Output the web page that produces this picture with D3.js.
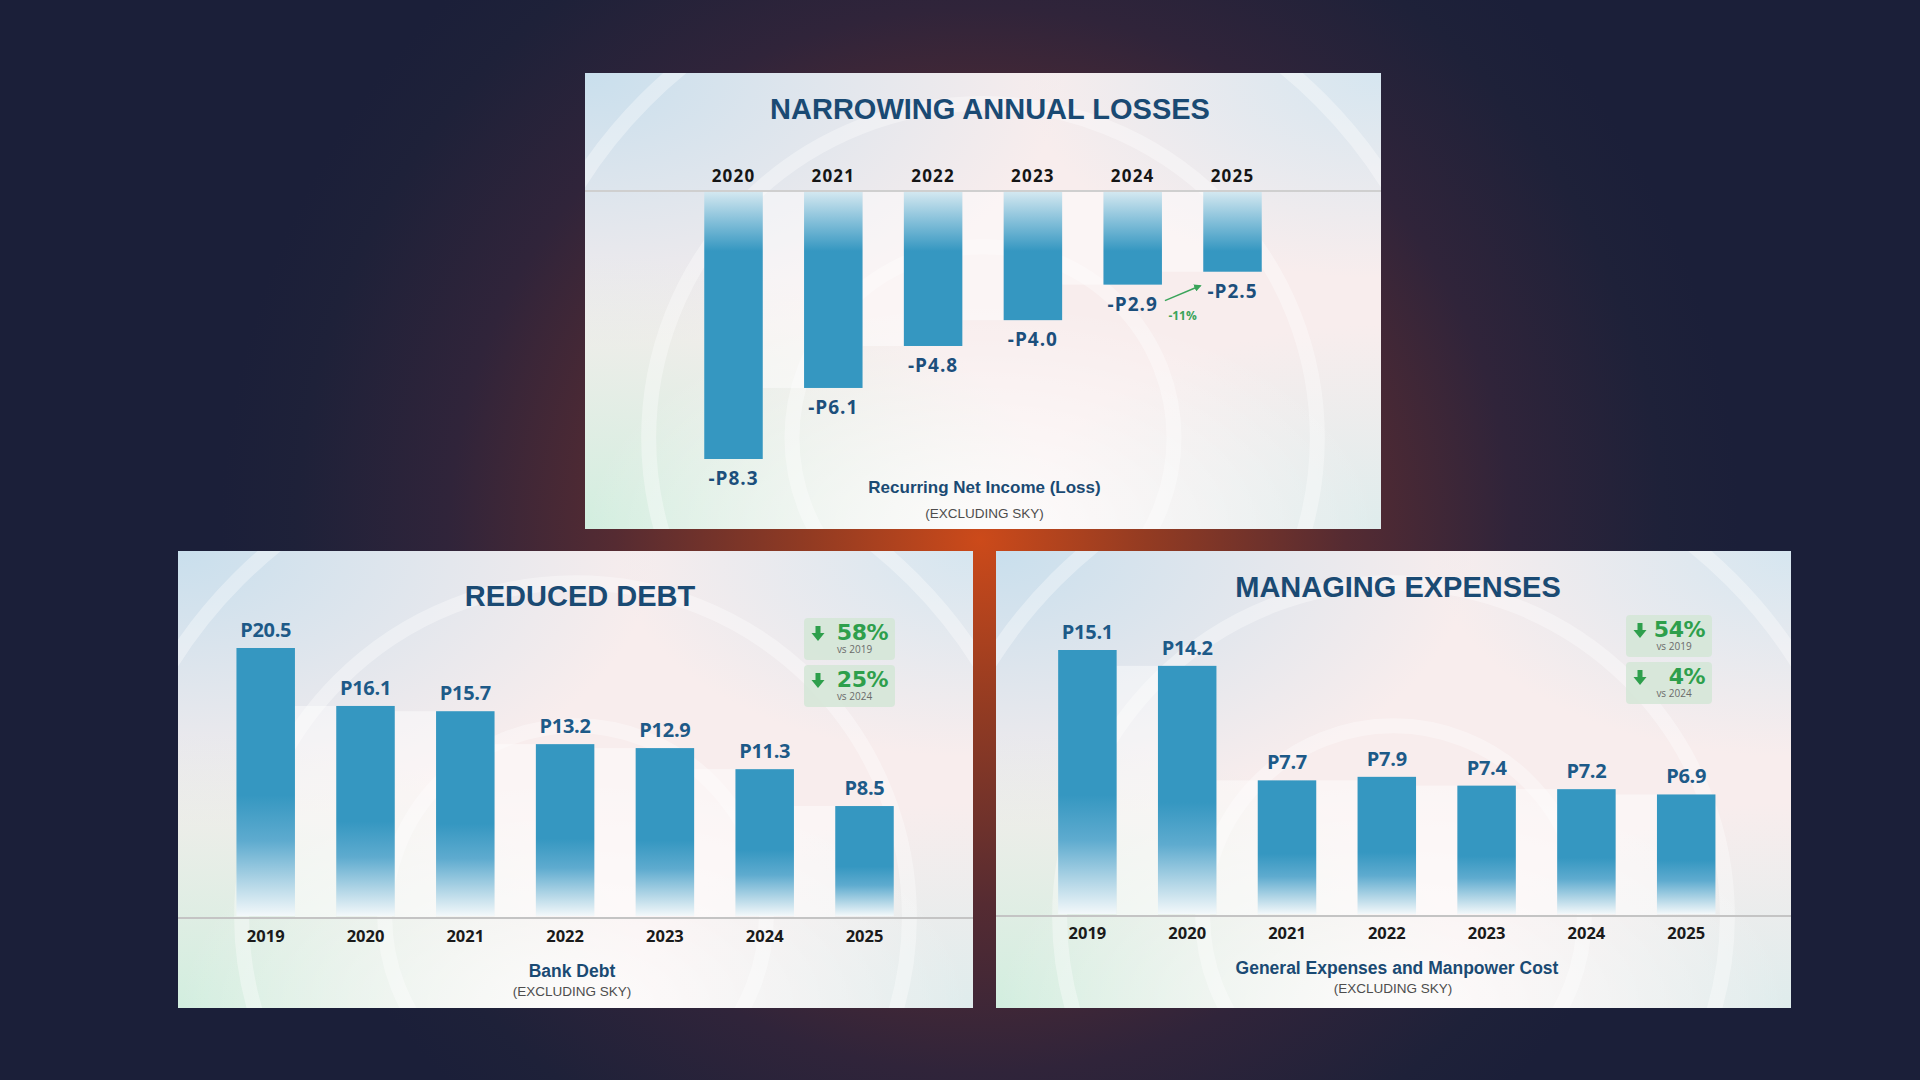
<!DOCTYPE html>
<html>
<head>
<meta charset="utf-8">
<script src="https://cdn.jsdelivr.net/npm/d3@7"></script>
<style>
  html, body { margin: 0; padding: 0; background: #1b1f39; }
  svg { display: block; }
</style>
</head>
<body>
<script>
// values
var lossYears = ['2020', '2021', '2022', '2023', '2024', '2025'];
var lossValues = [-8.3, -6.1, -4.8, -4.0, -2.9, -2.5];
var lossChange = '-11%';

var debtYears = ['2019', '2020', '2021', '2022', '2023', '2024', '2025'];
var debtValues = [20.5, 16.1, 15.7, 13.2, 12.9, 11.3, 8.5];
var debtBadgePct = ['58%', '25%'];
var debtBadgeVs = ['vs 2019', 'vs 2024'];

var expenseYears = ['2019', '2020', '2021', '2022', '2023', '2024', '2025'];
var expenseValues = [15.1, 14.2, 7.7, 7.9, 7.4, 7.2, 6.9];
var expenseBadgePct = ['54%', '4%'];
var expenseBadgeVs = ['vs 2019', 'vs 2024'];

var W = 1920,
    H = 1080;

var BAR = '#3597c1',
    NAVY = '#1a4a73',
    VALUE = '#1d5a88',
    GREEN = '#2e9f4c';

var svg = d3.select('body')
  .append('svg')
  .attr('width', W)
  .attr('height', H);

var defs = svg.append('defs');

// page background, dark with a red glow in the middle
var glow = defs.append('radialGradient')
  .attr('id', 'glow')
  .attr('gradientUnits', 'userSpaceOnUse')
  .attr('cx', 980).attr('cy', 540).attr('r', 760);
[[0, '#cc4a1a'], [0.22, '#933b22'], [0.48, '#552b32'], [0.7, '#30243a'], [0.9, '#1e2139'], [1, '#1b1f39']]
  .forEach(function(s) {
      glow.append('stop').attr('offset', s[0]).attr('stop-color', s[1]);
  });

svg.append('rect')
  .attr('width', W)
  .attr('height', H)
  .attr('fill', 'url(#glow)');

// soft corner tints used by every panel
function radial(id, cx, cy, r, color, op) {
    var g = defs.append('radialGradient')
      .attr('id', id)
      .attr('cx', cx).attr('cy', cy).attr('r', r);
    g.append('stop').attr('offset', 0).attr('stop-color', color).attr('stop-opacity', op);
    g.append('stop').attr('offset', 1).attr('stop-color', color).attr('stop-opacity', 0);
}
radial('tl', 0, 0, 0.6, '#c9dfed', 1);
radial('tr', 1, 0, 0.45, '#d6e6f0', 1);
radial('bl', 0, 1, 0.6, '#d2eedf', 1);
radial('br', 1, 1, 0.45, '#dcecec', 0.9);
radial('bc', 0.5, 1, 0.5, '#ffffff', 0.8);

var fadeDown = defs.append('linearGradient')
  .attr('id', 'fadeDown')
  .attr('x1', 0).attr('y1', 0).attr('x2', 0).attr('y2', 1);
[[0, BAR], [0.55, BAR], [0.72, '#5eabcf'], [0.88, '#b4d7e7'], [1, '#f3f8fa']]
  .forEach(function(s) {
      fadeDown.append('stop').attr('offset', s[0]).attr('stop-color', s[1]);
  });

function panel(key, p) {
    var clip = defs.append('clipPath').attr('id', 'clip-' + key);
    clip.append('rect').attr('width', p.w).attr('height', p.h);

    var g = svg.append('g')
      .attr('transform', 'translate(' + p.x + ',' + p.y + ')')
      .attr('clip-path', 'url(#clip-' + key + ')');

    g.append('rect').attr('width', p.w).attr('height', p.h).attr('fill', '#f8eded');
    ['tl', 'tr', 'bl', 'br', 'bc'].forEach(function(id) {
        g.append('rect')
          .attr('width', p.w)
          .attr('height', p.h)
          .attr('fill', 'url(#' + id + ')');
    });

    // the faint concentric rings
    g.selectAll('circle.ring')
      .data([0.24, 0.42, 0.6, 0.82])
      .enter()
      .append('circle')
      .attr('class', 'ring')
      .attr('cx', p.w / 2)
      .attr('cy', p.h * 0.8)
      .attr('r', function(d) { return d * p.w; })
      .attr('fill', 'none')
      .attr('stroke', '#ffffff')
      .attr('stroke-width', 15)
      .attr('stroke-opacity', 0.35);
    return g;
}

function text(x, y, str, size, weight, color, family) {
    return svg.append('text')
      .attr('x', x)
      .attr('y', y)
      .attr('text-anchor', 'middle')
      .style('font-family', family || '"Liberation Sans", Arial, sans-serif')
      .style('font-size', size + 'px')
      .style('font-weight', weight)
      .attr('fill', color)
      .text(str);
}

function bandScale(domain, firstCenter, step) {
    return d3.scaleBand()
      .domain(domain)
      .range([firstCenter - step / 2, firstCenter + (domain.length - 0.5) * step])
      .paddingInner(0.414)
      .paddingOuter(0.207);
}

// ---------------- NARROWING ANNUAL LOSSES ----------------
var P1 = {x: 585, y: 73, w: 796, h: 456};
panel('loss', P1);

var lossAxisY = 191;
var xLoss = bandScale(lossYears, 733.5, 99.8);
var yLoss = d3.scaleLinear()
  .domain([0, d3.min(lossValues)])
  .range([lossAxisY, lossAxisY + 268]);

var fadeUp = defs.append('linearGradient')
  .attr('id', 'fadeUp')
  .attr('gradientUnits', 'userSpaceOnUse')
  .attr('x1', 0).attr('y1', lossAxisY).attr('x2', 0).attr('y2', lossAxisY + 60);
[[0, '#d6e9f1'], [0.45, '#8dc4dc'], [1, BAR]].forEach(function(s) {
    fadeUp.append('stop').attr('offset', s[0]).attr('stop-color', s[1]);
});

var lossData = lossYears.map(function(y, i) { return {year: y, value: lossValues[i]}; });

svg.append('g')
  .selectAll('rect')
  .data(d3.pairs(lossData))
  .enter()
  .append('rect')
  .attr('x', function(d) { return xLoss(d[0].year) + xLoss.bandwidth(); })
  .attr('y', lossAxisY)
  .attr('width', xLoss.step() - xLoss.bandwidth())
  .attr('height', function(d) { return d3.min([yLoss(d[0].value), yLoss(d[1].value)]) - lossAxisY; })
  .attr('fill', '#ffffff')
  .attr('opacity', 0.45);

text(990, 118.5, 'NARROWING ANNUAL LOSSES', 29, 700, NAVY);

svg.append('line')
  .attr('x1', P1.x).attr('x2', P1.x + P1.w)
  .attr('y1', lossAxisY).attr('y2', lossAxisY)
  .attr('stroke', '#cfcfcf')
  .attr('stroke-width', 2);

var lossAxis = svg.append('g')
  .attr('transform', 'translate(0,' + lossAxisY + ')')
  .call(d3.axisTop(xLoss).tickSize(0).tickPadding(9));
lossAxis.select('.domain').remove();
lossAxis.selectAll('text')
  .style('font-family', '"Open Sans", sans-serif')
  .style('font-size', '17px')
  .style('font-weight', 700)
  .style('letter-spacing', '1.2px')
  .attr('fill', '#151515');

svg.append('g')
  .selectAll('rect')
  .data(lossData)
  .enter()
  .append('rect')
  .attr('x', function(d) { return xLoss(d.year); })
  .attr('y', lossAxisY + 1)
  .attr('width', xLoss.bandwidth())
  .attr('height', function(d) { return yLoss(d.value) - lossAxisY - 1; })
  .attr('fill', 'url(#fadeUp)');

svg.append('g')
  .selectAll('text')
  .data(lossData)
  .enter()
  .append('text')
  .attr('x', function(d) { return xLoss(d.year) + xLoss.bandwidth() / 2; })
  .attr('y', function(d) { return yLoss(d.value) + 26; })
  .attr('text-anchor', 'middle')
  .style('font-family', '"Open Sans", sans-serif')
  .style('font-size', '19px')
  .style('font-weight', 700)
  .style('letter-spacing', '1px')
  .attr('fill', '#1c4f7c')
  .text(function(d) { return '-P' + d3.format('.1f')(Math.abs(d.value)); });

// small green arrow between the last two years
var a0 = lossData[lossData.length - 2],
    a1 = lossData[lossData.length - 1];
defs.append('marker')
  .attr('id', 'head')
  .attr('viewBox', '0 0 10 10')
  .attr('refX', 8).attr('refY', 5)
  .attr('markerWidth', 5).attr('markerHeight', 5)
  .attr('orient', 'auto')
  .append('path')
  .attr('d', 'M0,0L10,5L0,10z')
  .attr('fill', '#3aa45a');

var ax0 = xLoss(a0.year) + xLoss.bandwidth() + 3,
    ax1 = xLoss(a1.year) - 3;
svg.append('line')
  .attr('x1', ax0).attr('y1', yLoss(a0.value) + 16)
  .attr('x2', ax1).attr('y2', yLoss(a1.value) + 14)
  .attr('stroke', '#3aa45a')
  .attr('stroke-width', 1.5)
  .attr('marker-end', 'url(#head)');
text((ax0 + ax1) / 2, yLoss(a0.value) + 35, lossChange, 12, 700, '#3aa45a', '"Open Sans", sans-serif');

text(984.5, 492.8, 'Recurring Net Income (Loss)', 17, 700, NAVY);
text(984.5, 517.7, '(EXCLUDING SKY)', 13.5, 400, '#4d4d4d');

// ---------------- bottom charts ----------------
function badge(x, y, w, h, pct, vs) {
    var g = svg.append('g').attr('transform', 'translate(' + x + ',' + y + ')');
    g.append('rect')
      .attr('width', w).attr('height', h)
      .attr('rx', 4)
      .attr('fill', '#d3e6d6')
      .attr('opacity', 0.85);
    g.append('path')
      .attr('d', 'M-2.5,0h5v7h4l-6.5,8l-6.5,-8h4z')
      .attr('transform', 'translate(14,8)')
      .attr('fill', GREEN);
    g.append('text')
      .attr('x', w - 7).attr('y', 22)
      .attr('text-anchor', 'end')
      .style('font-family', '"DejaVu Sans", sans-serif')
      .style('font-size', '22px')
      .style('font-weight', 700)
      .style('letter-spacing', '-0.5px')
      .attr('fill', GREEN)
      .text(pct);
    g.append('text')
      .attr('x', w / 2 + 5).attr('y', 35)
      .attr('text-anchor', 'middle')
      .style('font-family', '"Open Sans", sans-serif')
      .style('font-size', '10px')
      .attr('fill', '#6b6b6b')
      .text(vs);
}

function columnChart(cfg) {
    var data = cfg.years.map(function(y, i) { return {year: y, value: cfg.values[i]}; });
    var x = bandScale(cfg.years, cfg.firstCenter, 99.8);
    var y = d3.scaleLinear()
      .domain([0, d3.max(cfg.values)])
      .range([cfg.axisY, cfg.topY]);

    // lighter strips between the columns
    svg.append('g')
      .selectAll('rect')
      .data(d3.pairs(data))
      .enter()
      .append('rect')
      .attr('x', function(d) { return x(d[0].year) + x.bandwidth(); })
      .attr('y', function(d) { return d3.max([y(d[0].value), y(d[1].value)]); })
      .attr('width', x.step() - x.bandwidth())
      .attr('height', function(d) { return cfg.axisY - d3.max([y(d[0].value), y(d[1].value)]); })
      .attr('fill', '#ffffff')
      .attr('opacity', 0.45);

    svg.append('g')
      .selectAll('rect')
      .data(data)
      .enter()
      .append('rect')
      .attr('x', function(d) { return x(d.year); })
      .attr('y', function(d) { return y(d.value); })
      .attr('width', x.bandwidth())
      .attr('height', function(d) { return cfg.axisY - 2 - y(d.value); })
      .attr('fill', 'url(#fadeDown)');

    svg.append('line')
      .attr('x1', cfg.panel.x).attr('x2', cfg.panel.x + cfg.panel.w)
      .attr('y1', cfg.axisY).attr('y2', cfg.axisY)
      .attr('stroke', '#c4c4c4')
      .attr('stroke-width', 2);

    var axis = svg.append('g')
      .attr('transform', 'translate(0,' + cfg.axisY + ')')
      .call(d3.axisBottom(x).tickSize(0).tickPadding(cfg.tickPad));
    axis.select('.domain').remove();
    axis.selectAll('text')
      .style('font-family', '"Open Sans", sans-serif')
      .style('font-size', '16.5px')
      .style('font-weight', 700)
      .attr('fill', '#1a1a1a');

    svg.append('g')
      .selectAll('text')
      .data(data)
      .enter()
      .append('text')
      .attr('x', function(d) { return x(d.year) + x.bandwidth() / 2; })
      .attr('y', function(d) { return y(d.value) - 11; })
      .attr('text-anchor', 'middle')
      .style('font-family', '"Open Sans", sans-serif')
      .style('font-size', '20px')
      .style('font-weight', 700)
      .style('letter-spacing', '-0.3px')
      .attr('fill', VALUE)
      .text(function(d) { return 'P' + d3.format('.1f')(d.value); });

    text(cfg.titleX, cfg.titleY, cfg.title, 29, 700, NAVY);
    text(cfg.subX, cfg.subY, cfg.subtitle, 17.5, 700, NAVY);
    text(cfg.exX, cfg.subY + 19, '(EXCLUDING SKY)', 13.5, 400, '#4d4d4d');

    cfg.badges.forEach(function(b, i) {
        badge(cfg.badgeX, cfg.badgeY + i * 47, cfg.badgeW, 42, cfg.pct[i], cfg.vs[i]);
    });
}

var P2 = {x: 178, y: 551, w: 795, h: 457};
panel('debt', P2);
columnChart({
    panel: P2,
    years: debtYears,
    values: debtValues,
    firstCenter: 265.7,
    axisY: 918,
    topY: 648,
    tickPad: 12,
    title: 'REDUCED DEBT',
    titleX: 580, titleY: 605.5,
    subtitle: 'Bank Debt',
    subX: 572, subY: 977, exX: 572,
    badges: [0, 1], pct: debtBadgePct, vs: debtBadgeVs,
    badgeX: 804, badgeY: 618, badgeW: 91
});

var P3 = {x: 996, y: 551, w: 795, h: 457};
panel('exp', P3);
columnChart({
    panel: P3,
    years: expenseYears,
    values: expenseValues,
    firstCenter: 1087.4,
    axisY: 916,
    topY: 650,
    tickPad: 11,
    title: 'MANAGING EXPENSES',
    titleX: 1398, titleY: 597,
    subtitle: 'General Expenses and Manpower Cost',
    subX: 1397, subY: 973.5, exX: 1393,
    badges: [0, 1], pct: expenseBadgePct, vs: expenseBadgeVs,
    badgeX: 1626, badgeY: 615, badgeW: 86
});
</script>
</body>
</html>
